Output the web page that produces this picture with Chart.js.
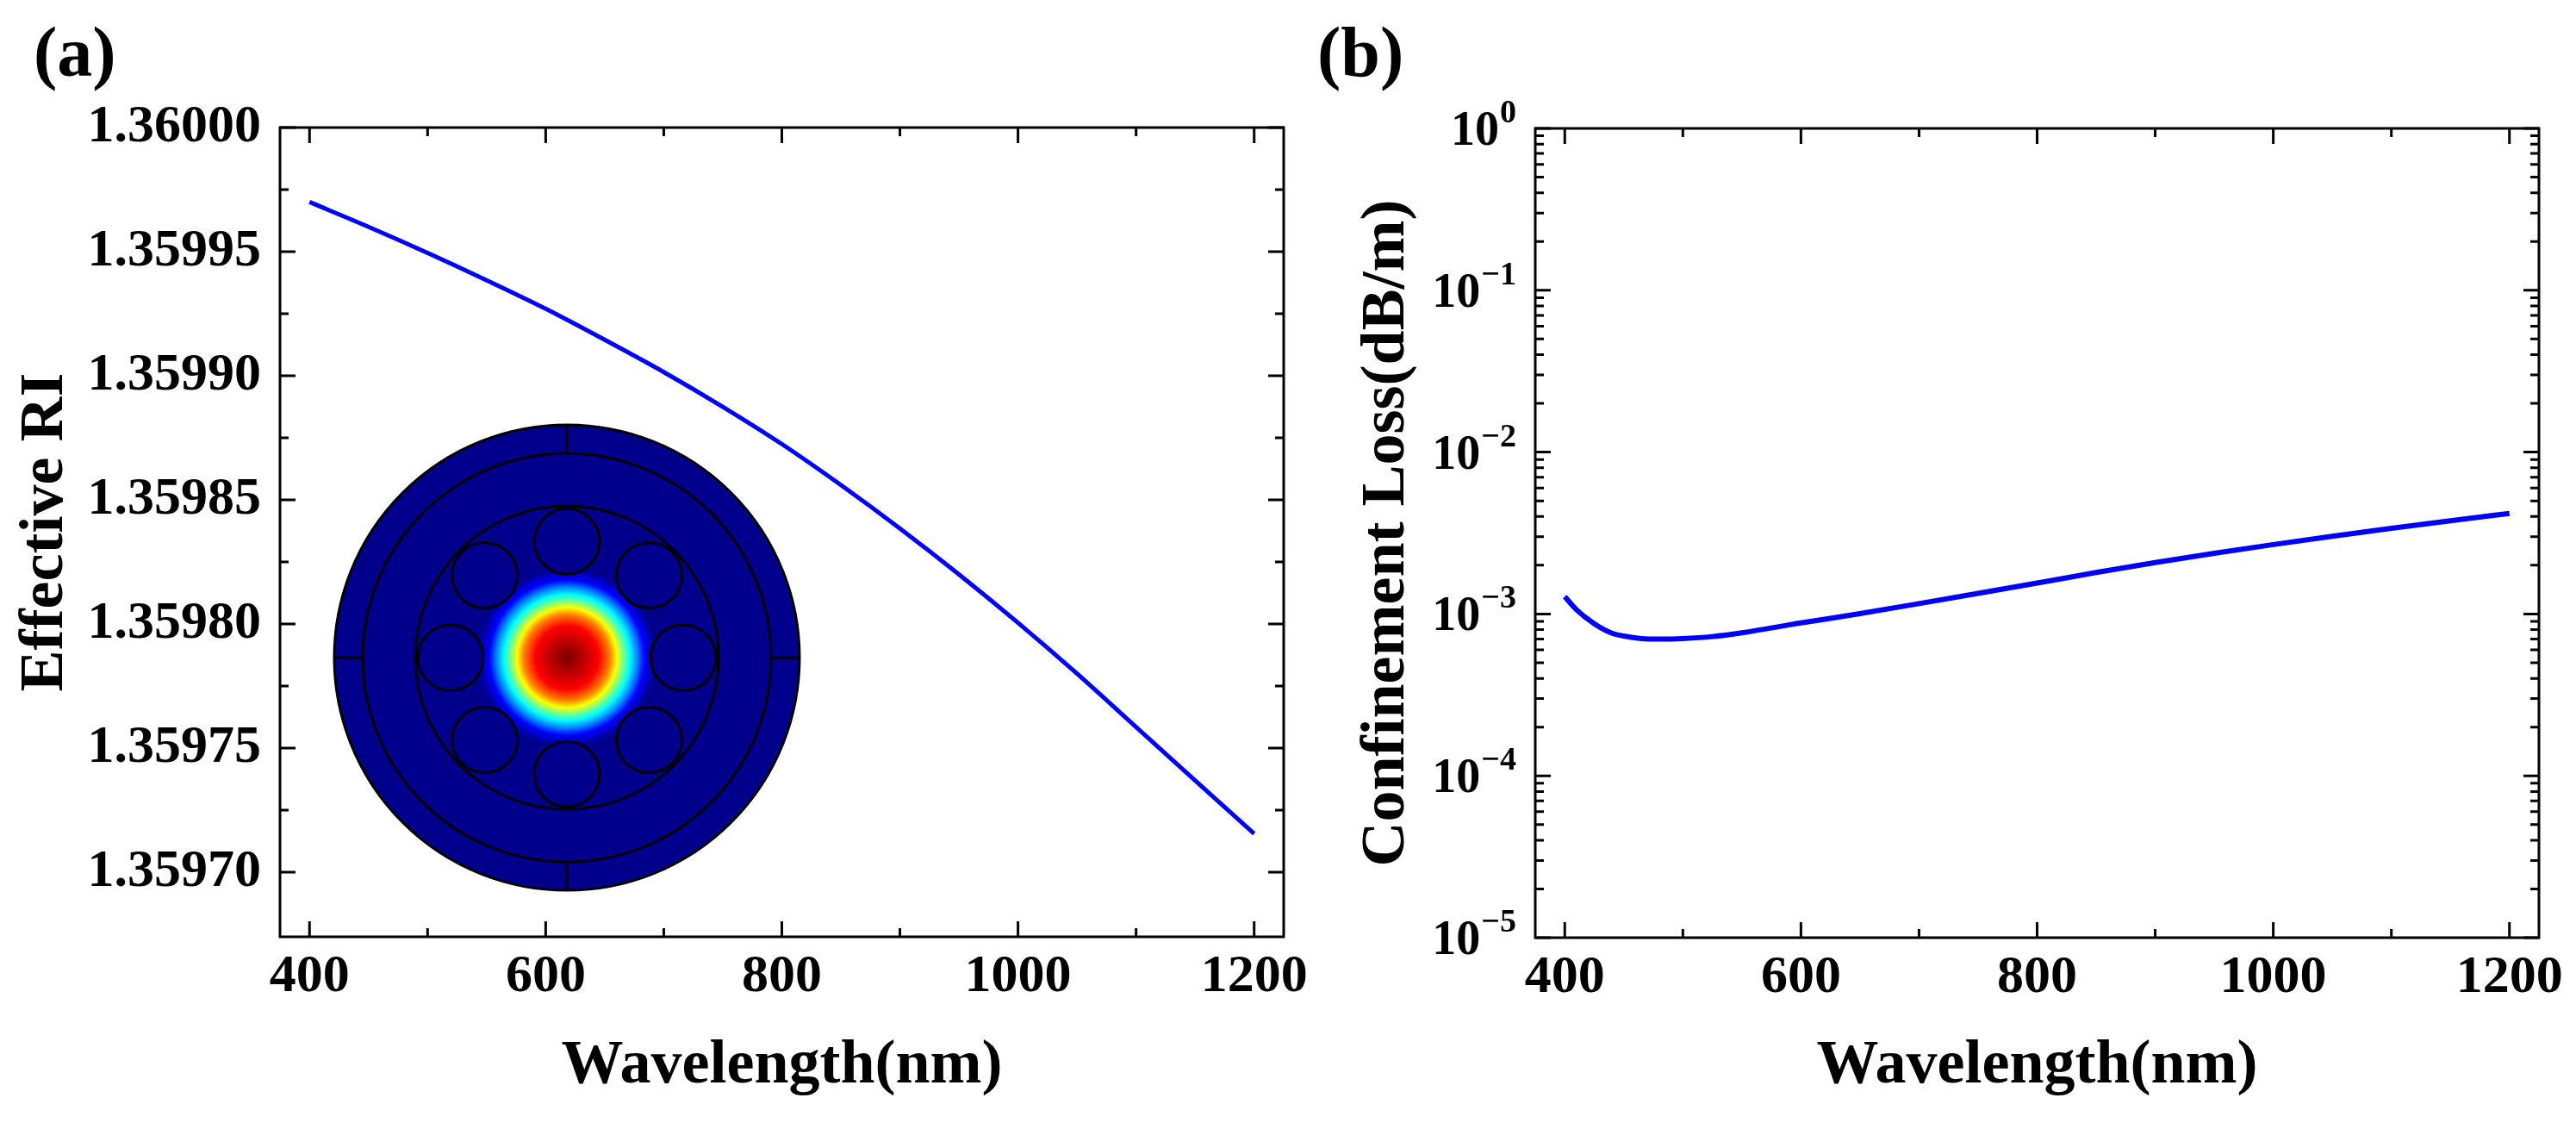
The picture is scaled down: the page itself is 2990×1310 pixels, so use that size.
<!DOCTYPE html>
<html>
<head>
<meta charset="utf-8">
<title>Effective RI and confinement loss</title>
<script src="https://cdn.jsdelivr.net/npm/chart.js@4.4.1/dist/chart.umd.min.js"></script>
<style>
  body { margin: 0; background: #fff; }
  #page { position: relative; width: 2990px; height: 1310px; overflow: hidden; background: #fff; }
  .panel { position: absolute; top: 0; height: 1310px; }
  #boxA { left: 0; width: 1560px; }
  #boxB { left: 1540px; width: 1450px; }
  .tag { position: absolute; top: 20px; font: bold 82px 'Liberation Serif', 'Times New Roman', serif; line-height: 82px; color: #000; }
</style>
</head>
<body>
<div id="page">
  <div class="panel" id="boxA"><canvas id="chartA"></canvas></div>
  <div class="panel" id="boxB"><canvas id="chartB"></canvas></div>
  <div class="tag" style="left:39px">(a)</div>
  <div class="tag" style="left:1529px">(b)</div>
</div>
<script>
/* (a) effective RI vs wavelength */
var wavelengthA = [400, 450, 500, 550, 600, 650, 700, 750, 800, 850, 900, 950, 1000, 1050, 1100, 1150, 1200];
var effectiveRI = [1.3599700, 1.3599600, 1.3599495, 1.3599385, 1.3599270, 1.3599145, 1.3599015, 1.3598875, 1.3598725,
                   1.3598560, 1.3598385, 1.3598200, 1.3598005, 1.3597800, 1.3597585, 1.3597370, 1.3597155];

/* (b) confinement loss (dB/m) vs wavelength */
var wavelengthB = [400, 410, 425, 440, 450, 465, 480, 500, 525, 550, 600, 650, 700, 750, 800,
                   850, 900, 950, 1000, 1050, 1100, 1150, 1200];
var confinementLoss = [1.28e-3, 1.06e-3, 8.7e-4, 7.6e-4, 7.3e-4, 7.05e-4, 7.0e-4, 7.05e-4, 7.25e-4, 7.65e-4, 8.8e-4,
                       1.005e-3, 1.159e-3, 1.340e-3, 1.552e-3, 1.803e-3, 2.080e-3, 2.371e-3, 2.685e-3, 3.020e-3,
                       3.381e-3, 3.767e-3, 4.178e-3];

/* axes */
var xTicks = [400, 600, 800, 1000, 1200];
var xMinor = [500, 700, 900, 1100];
var riTicks = [1.35970, 1.35975, 1.35980, 1.35985, 1.35990, 1.35995, 1.36000];
var riMinor = [1.359725, 1.359775, 1.359825, 1.359875, 1.359925, 1.359975];
var lossExps = [-5, -4, -3, -2, -1, 0];

var serif = "'Liberation Serif', 'Times New Roman', serif";
Chart.defaults.font.family = serif;
Chart.defaults.font.weight = 'bold';
Chart.defaults.color = '#000';

function points(xs, ys) {
	return xs.map(function(x, i) { return { x: x, y: ys[i] }; });
}

// log minor ticks 2..9 in every decade
var lossMajor = lossExps.map(function(e) { return Math.pow(10, e); });
var lossMinor = [];
for (var e = -5; e < 0; e++) {
	for (var m = 2; m <= 9; m++) lossMinor.push(m * Math.pow(10, e));
}

/* Origin style box with inward ticks on all four sides */
function frameTicks(yMajor, yMinor) {
	return {
		id: 'frameTicks',
		afterDatasetsDraw: function(chart) {
			var ctx = chart.ctx, a = chart.chartArea;
			var xs = chart.scales.x, ys = chart.scales.y;
			ctx.save();
			ctx.strokeStyle = '#000';
			ctx.lineWidth = 3;
			ctx.beginPath();
			function xt(v, len) {
				var p = xs.getPixelForValue(v);
				ctx.moveTo(p, a.bottom); ctx.lineTo(p, a.bottom - len);
				ctx.moveTo(p, a.top); ctx.lineTo(p, a.top + len);
			}
			function yt(v, len) {
				var p = ys.getPixelForValue(v);
				if (p < a.top - 1 || p > a.bottom + 1) return;
				ctx.moveTo(a.left, p); ctx.lineTo(a.left + len, p);
				ctx.moveTo(a.right, p); ctx.lineTo(a.right - len, p);
			}
			xTicks.forEach(function(v) { xt(v, 18); });
			xMinor.forEach(function(v) { xt(v, 10); });
			yMajor.forEach(function(v) { yt(v, 18); });
			yMinor.forEach(function(v) { yt(v, 10); });
			ctx.stroke();
			ctx.strokeRect(a.left, a.top, a.right - a.left, a.bottom - a.top);
			ctx.restore();
		}
	};
}

/* inset: fibre cross section with the core mode */
var fiberInset = {
	id: 'fiberInset',
	beforeDatasetsDraw: function(chart) {
		var ctx = chart.ctx, a = chart.chartArea;
		var cx = a.left + 333, cy = a.top + 615;
		var navy = '#00008c';
		ctx.save();
		ctx.beginPath(); ctx.arc(cx, cy, 270, 0, Math.PI * 2);
		ctx.fillStyle = navy; ctx.fill();

		var g = ctx.createRadialGradient(cx, cy, 0, cx, cy, 110);
		var stops = [[0, '#780000'], [20, '#c00000'], [37, '#ff0000'], [50, '#ff8000'], [58, '#ffff00'],
		             [65, '#80ff80'], [73, '#00ffff'], [82, '#0080ff'], [90, '#0000ff'], [104, navy], [110, navy]];
		stops.forEach(function(s) { g.addColorStop(s[0] / 110, s[1]); });
		ctx.beginPath(); ctx.arc(cx, cy, 110, 0, Math.PI * 2);
		ctx.fillStyle = g; ctx.fill();

		ctx.strokeStyle = '#000';
		ctx.lineWidth = 3;
		for (var k = 0; k < 8; k++) {
			var ang = k * Math.PI / 4;
			var hx = cx + 135 * Math.sin(ang), hy = cy - 135 * Math.cos(ang);
			ctx.beginPath(); ctx.arc(hx, hy, 38, 0, Math.PI * 2);
			ctx.fillStyle = navy; ctx.fill(); ctx.stroke();
		}
		[176, 237, 270].forEach(function(r) {
			ctx.beginPath(); ctx.arc(cx, cy, r, 0, Math.PI * 2); ctx.stroke();
		});
		ctx.beginPath();
		ctx.moveTo(cx, cy - 270); ctx.lineTo(cx, cy - 237);
		ctx.moveTo(cx, cy + 270); ctx.lineTo(cx, cy + 237);
		ctx.moveTo(cx - 270, cy); ctx.lineTo(cx - 237, cy);
		ctx.moveTo(cx + 270, cy); ctx.lineTo(cx + 237, cy);
		ctx.stroke();
		ctx.restore();
	}
};

/* 10^n labels for the log axis */
var expLabels = {
	id: 'expLabels',
	afterDraw: function(chart) {
		var ctx = chart.ctx, ys = chart.scales.y;
		var right = chart.chartArea.left - 22;
		ctx.save();
		ctx.fillStyle = '#000';
		ctx.textBaseline = 'alphabetic';
		lossExps.forEach(function(e) {
			var y = ys.getPixelForValue(Math.pow(10, e));
			var sup = e < 0 ? '\u2212' + (-e) : String(e);
			ctx.font = 'bold 38px ' + serif;
			var w = ctx.measureText(sup).width;
			ctx.textAlign = 'left';
			ctx.fillText(sup, right - w, y - 7);
			ctx.font = 'bold 56px ' + serif;
			ctx.textAlign = 'right';
			ctx.fillText('10', right - w - 1, y + 19);
		});
		ctx.restore();
	}
};

function xAxis() {
	return {
		type: 'linear', min: 375, max: 1225, bounds: 'data',
		afterBuildTicks: function(s) { s.ticks = xTicks.map(function(v) { return { value: v }; }); },
		afterFit: function(s) { s.height = 223; },
		grid: { display: false, drawTicks: false },
		border: { display: false },
		ticks: { font: { size: 62 }, color: '#000', padding: 10, maxRotation: 0, autoSkip: false,
		         callback: function(v) { return String(v); } },
		title: { display: true, text: 'Wavelength(nm)', font: { size: 72 }, color: '#000', padding: { top: 0, bottom: 29 } }
	};
}

var common = {
	responsive: true,
	maintainAspectRatio: false,
	animation: false,
	devicePixelRatio: 1,
	plugins: { legend: { display: false }, tooltip: { enabled: false } }
};

new Chart(document.getElementById('chartA'), {
	type: 'line',
	data: {
		datasets: [{
			data: points(wavelengthA, effectiveRI),
			borderColor: '#0000ff', borderWidth: 5, pointRadius: 0,
			cubicInterpolationMode: 'monotone', fill: false
		}]
	},
	options: Object.assign({}, common, {
		layout: { padding: { top: 148, right: 70, bottom: 0, left: 0 } },
		scales: {
			x: xAxis(),
			y: {
				type: 'linear', min: 1.359674, max: 1.36, bounds: 'data',
				afterBuildTicks: function(s) { s.ticks = riTicks.map(function(v) { return { value: v }; }); },
				afterFit: function(s) { s.width = 325; },
				grid: { display: false, drawTicks: false },
				border: { display: false },
				ticks: { font: { size: 62 }, color: '#000', padding: 22, autoSkip: false,
				         callback: function(v) { return v.toFixed(5); } },
				title: { display: true, text: 'Effective RI', font: { size: 72 }, color: '#000', padding: { top: 10, bottom: 0 } }
			}
		}
	}),
	plugins: [fiberInset, frameTicks(riTicks, riMinor)]
});

new Chart(document.getElementById('chartB'), {
	type: 'line',
	data: {
		datasets: [{
			data: points(wavelengthB, confinementLoss),
			borderColor: '#0000ff', borderWidth: 6, pointRadius: 0,
			cubicInterpolationMode: 'monotone', fill: false
		}]
	},
	options: Object.assign({}, common, {
		layout: { padding: { top: 149, right: 43, bottom: 0, left: 0 } },
		scales: {
			x: Object.assign(xAxis(), { afterFit: function(s) { s.height = 222; } }),
			y: {
				type: 'logarithmic', min: 1e-5, max: 1,
				afterBuildTicks: function(s) { s.ticks = lossMajor.map(function(v) { return { value: v }; }); },
				afterFit: function(s) { s.width = 242; },
				grid: { display: false, drawTicks: false },
				border: { display: false },
				ticks: { display: false },
				title: { display: true, text: 'Confinement Loss(dB/m)', font: { size: 72 }, color: '#000', padding: { top: 27, bottom: 0 } }
			}
		}
	}),
	plugins: [frameTicks(lossMajor, lossMinor), expLabels]
});
</script>
</body>
</html>
